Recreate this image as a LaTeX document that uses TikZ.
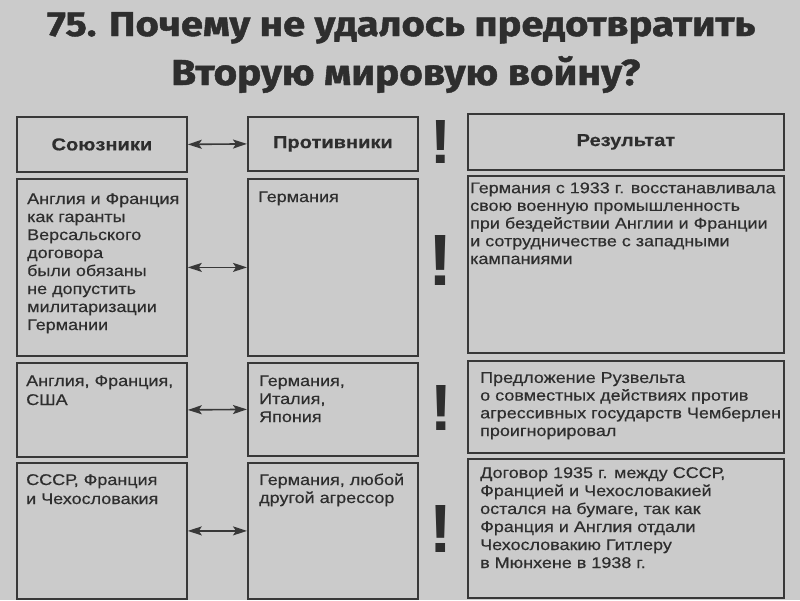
\documentclass[tikz,border=0pt]{standalone}
\usepackage{fontspec}
\setmainfont{Liberation Sans}[FakeStretch=1.16, UprightFeatures={FakeBold=0.4}, BoldFeatures={FakeBold=0.4}]
\newfontfamily\titlefont{Fira Sans}[BoldFeatures={FakeBold=1.2}]
\newfontfamily\bangfont{Liberation Sans}
\usetikzlibrary{arrows.meta}
\definecolor{bg}{HTML}{CBCBCB}
\definecolor{ink}{HTML}{2E2E2E}
\definecolor{edge}{HTML}{383838}
\tikzset{
  cell/.style={draw=edge, line width=1.8pt, inner sep=0pt, anchor=north west},
  head/.style={font=\fontsize{17.3}{20}\selectfont\bfseries, text=ink, inner sep=0pt},
  body/.style={font=\fontsize{15.5}{18}\selectfont, text=ink, align=left, inner sep=0pt, anchor=base west},
  link/.style={draw=edge, line width=1.6pt, {Stealth[length=14pt,width=9pt,inset=3pt]}-{Stealth[length=14pt,width=9pt,inset=3pt]}},
  bang/.style={text=ink, inner sep=0pt, anchor=base},
  ttl/.style={text=ink, inner sep=0pt, anchor=base west},
}
\begin{document}
\begin{tikzpicture}[x=1pt,y=-1pt]
\fill[bg] (0,0) rectangle (800,600);
\useasboundingbox (0,0) rectangle (800,600);

% title
\node[ttl] (t1) at (47,36) {\resizebox{708pt}{24pt}{\titlefont\bfseries\vphantom{П}\smash{75. Почему не удалось предотвратить}}};
\node[ttl] (t2) at (171,85) {\resizebox{469pt}{25pt}{\titlefont\bfseries\vphantom{В}\smash{Вторую мировую войну?}}};

% boxes
\node[cell, minimum width=170pt, minimum height=55pt]  (s0) at (16,116) {};
\node[cell, minimum width=170pt, minimum height=177pt] (s1) at (16,178) {};
\node[cell, minimum width=170pt, minimum height=94pt]  (s2) at (16,362) {};
\node[cell, minimum width=170pt, minimum height=136pt] (s3) at (16,462) {};

\node[cell, minimum width=170pt, minimum height=54pt]  (p0) at (247,116) {};
\node[cell, minimum width=170pt, minimum height=177pt] (p1) at (247,178) {};
\node[cell, minimum width=170pt, minimum height=93pt]  (p2) at (247,362) {};
\node[cell, minimum width=170pt, minimum height=136pt] (p3) at (247,462) {};

\node[cell, minimum width=316pt, minimum height=56pt]  (r0) at (467,113) {};
\node[cell, minimum width=316pt, minimum height=177pt] (r1) at (467,175) {};
\node[cell, minimum width=316pt, minimum height=92pt]  (r2) at (467,360) {};
\node[cell, minimum width=316pt, minimum height=139pt] (r3) at (467,458) {};

% headers
\node[head] (hs) at (s0.center) {Союзники};
\node[head] (hp) at (p0.center) {Противники};
\node[head] (hr) at (r0.center) {Результат};

% arrows
\draw[link] (s0.east) -- (p0.west);
\draw[link] (s1.east) -- (p1.west);
\draw[link] (s2.east) -- (p2.west);
\draw[link] (s3.east) -- (p3.west);

% exclamation marks
\node[bang] (b0) at (441,163) {\resizebox{!}{43pt}{\bangfont\bfseries !}};
\node[bang] (b1) at (441,285) {\resizebox{!}{50pt}{\bangfont\bfseries !}};
\node[bang] (b2) at (441,430) {\resizebox{!}{45pt}{\bangfont\bfseries !}};
\node[bang] (b3) at (441,552) {\resizebox{!}{47pt}{\bangfont\bfseries !}};

% texts (anchor = baseline of the last line)
\node[body] (ts1) at (27,330) {Англия и Франция\\как гаранты\\Версальского\\договора\\были обязаны\\не допустить\\милитаризации\\Германии};
\node[body] (tp1) at (258,202) {Германия};
\node[body, font=\fontsize{15.5}{17.7}\selectfont] (tr1) at (470,264) {Германия с 1933 г. восстанавливала\\свою военную промышленность\\при бездействии Англии и Франции\\и сотрудничестве с западными\\кампаниями};

\node[body, font=\fontsize{15.5}{19}\selectfont] (ts2) at (26,405) {Англия, Франция,\\США};
\node[body] (tp2) at (259,422) {Германия,\\Италия,\\Япония};
\node[body, font=\fontsize{15.5}{17.7}\selectfont] (tr2) at (480,436) {Предложение Рузвельта\\о совместных действиях против\\агрессивных государств Чемберлен\\проигнорировал};

\node[body, font=\fontsize{15.5}{19}\selectfont] (ts3) at (26,504) {СССР, Франция\\и Чехословакия};
\node[body] (tp3) at (259,503) {Германия, любой\\другой агрессор};
\node[body] (tr3) at (480,568) {Договор 1935 г. между СССР,\\Францией и Чехословакией\\остался на бумаге, так как\\Франция и Англия отдали\\Чехословакию Гитлеру\\в Мюнхене в 1938 г.};
\end{tikzpicture}
\end{document}
